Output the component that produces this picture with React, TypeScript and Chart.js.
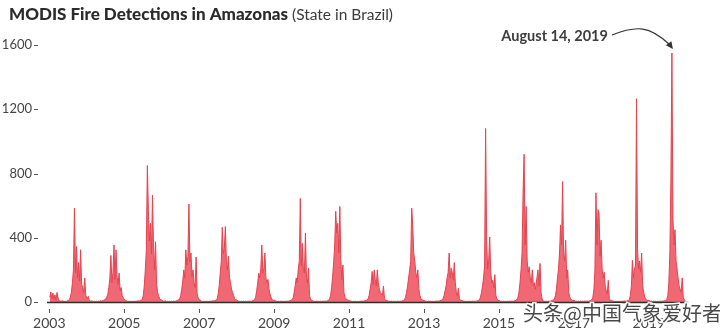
import React, { useEffect, useRef } from "react";
import { Chart, registerables } from "chart.js";

Chart.register(...registerables);

// ---- Data (10-day periods, 36 per year) ----
const yearTicks = [2003, 2005, 2007, 2009, 2011, 2013, 2015, 2017, 2019];
const yTicks = [0, 400, 800, 1200, 1600];
const titleBold = "MODIS Fire Detections in Amazonas";
const titleRest = "(State in Brazil)";
const annotationText = "August 14, 2019";
const annotationYear = 2019;
const annotationBin = 22;
const annotationValue = 1550;
const watermark = "头条@中国气象爱好者";

const fires2003 = [30, 63, 20, 55, 15, 45, 10, 60, 25, 10, 5, 5, 8, 5, 3, 5, 3, 8, 10, 15, 30, 60, 120, 200, 585, 180, 345, 150, 245, 130, 325, 110, 90, 60, 150, 40];
const fires2004 = [20, 35, 10, 5, 8, 5, 3, 5, 3, 5, 3, 5, 5, 8, 5, 10, 10, 15, 20, 30, 50, 90, 150, 290, 120, 185, 355, 140, 325, 160, 110, 180, 70, 90, 40, 25];
const fires2005 = [15, 5, 8, 3, 5, 3, 5, 3, 5, 3, 5, 5, 5, 8, 5, 10, 10, 15, 40, 100, 200, 320, 850, 570, 380, 490, 300, 665, 350, 200, 375, 110, 60, 40, 20, 15];
const fires2006 = [10, 5, 5, 8, 3, 5, 3, 5, 3, 5, 3, 5, 5, 5, 8, 10, 15, 20, 40, 80, 130, 200, 150, 325, 230, 285, 610, 250, 305, 160, 200, 120, 90, 280, 50, 25];
const fires2007 = [15, 5, 5, 3, 5, 3, 5, 3, 5, 3, 5, 5, 5, 8, 5, 10, 10, 20, 50, 100, 180, 250, 465, 300, 335, 470, 250, 200, 285, 150, 120, 80, 60, 40, 20, 15];
const fires2008 = [10, 5, 5, 3, 5, 3, 5, 3, 5, 3, 5, 5, 5, 5, 5, 8, 10, 15, 30, 70, 120, 180, 150, 205, 355, 180, 210, 305, 150, 120, 140, 80, 50, 30, 15, 10];
const fires2009 = [12, 5, 4, 3, 5, 3, 6, 3, 5, 3, 5, 4, 5, 5, 6, 8, 10, 15, 25, 60, 100, 150, 120, 205, 255, 645, 225, 365, 205, 180, 430, 150, 120, 210, 40, 15];
const fires2010 = [10, 5, 5, 3, 5, 3, 5, 3, 5, 3, 5, 5, 5, 5, 5, 8, 10, 20, 40, 90, 160, 250, 355, 565, 430, 490, 305, 595, 255, 140, 230, 60, 30, 20, 15, 10];
const fires2011 = [10, 6, 5, 3, 5, 3, 5, 3, 4, 3, 5, 5, 5, 5, 5, 8, 10, 12, 20, 40, 80, 120, 190, 110, 200, 140, 100, 200, 120, 80, 60, 50, 40, 100, 20, 10];
const fires2012 = [10, 5, 5, 3, 6, 3, 5, 3, 5, 3, 5, 5, 4, 5, 5, 8, 10, 15, 30, 60, 100, 150, 200, 250, 585, 480, 305, 255, 185, 150, 200, 80, 40, 20, 15, 10];
const fires2013 = [10, 5, 5, 3, 5, 4, 5, 3, 5, 3, 5, 5, 5, 6, 5, 8, 10, 12, 20, 40, 70, 100, 150, 185, 305, 150, 210, 185, 140, 245, 120, 60, 40, 85, 20, 10];
const fires2014 = [10, 5, 5, 3, 5, 3, 5, 4, 5, 3, 5, 5, 5, 5, 5, 8, 10, 15, 30, 60, 100, 150, 225, 1080, 385, 205, 255, 405, 185, 120, 135, 90, 170, 40, 20, 10];
const fires2015 = [10, 5, 5, 3, 5, 3, 5, 3, 5, 4, 5, 5, 5, 5, 5, 8, 10, 15, 30, 60, 120, 200, 305, 685, 920, 355, 595, 255, 185, 220, 150, 120, 200, 100, 120, 80];
const fires2016 = [150, 200, 100, 240, 60, 20, 5, 5, 3, 5, 3, 5, 5, 5, 8, 10, 15, 20, 40, 80, 150, 205, 305, 480, 355, 750, 305, 255, 385, 150, 200, 60, 30, 20, 10, 10];
const fires2017 = [10, 5, 5, 3, 5, 3, 5, 3, 5, 3, 6, 5, 5, 5, 5, 8, 10, 15, 30, 80, 200, 680, 355, 575, 555, 285, 385, 205, 150, 185, 100, 70, 50, 135, 20, 10];
const fires2018 = [10, 5, 5, 3, 5, 3, 5, 3, 5, 3, 5, 5, 6, 5, 5, 8, 10, 15, 40, 100, 260, 150, 205, 225, 1265, 335, 205, 255, 185, 305, 100, 60, 30, 20, 10, 10];
const fires2019 = [10, 5, 5, 3, 5, 3, 5, 3, 5, 3, 5, 5, 5, 5, 6, 8, 10, 15, 40, 120, 305, 760, 1550, 510, 355, 450, 255, 205, 150, 100, 80, 60, 150, 30, 15, 10];

const seasons: [number, number[]][] = [
  [2003, fires2003], [2004, fires2004], [2005, fires2005], [2006, fires2006],
  [2007, fires2007], [2008, fires2008], [2009, fires2009], [2010, fires2010],
  [2011, fires2011], [2012, fires2012], [2013, fires2013], [2014, fires2014],
  [2015, fires2015], [2016, fires2016], [2017, fires2017], [2018, fires2018],
  [2019, fires2019],
];

const binToYear = (yr: number, i: number) => yr + (i * 10 + 5) / 365;

const FONT = "Lato, 'Open Sans', sans-serif";

const decorPlugin = {
  id: "decor",
  afterDraw(chart: any) {
    const { ctx, chartArea, scales } = chart;
    const xs = scales.x;
    const ys = scales.y;
    ctx.save();

    // Title
    ctx.textBaseline = "alphabetic";
    ctx.textAlign = "left";
    ctx.fillStyle = "#2b2b2b";
    ctx.font = `900 17px ${FONT}`;
    ctx.fillText(titleBold, 9, 20);
    const w = ctx.measureText(titleBold).width;
    ctx.font = `15.5px ${FONT}`;
    ctx.fillStyle = "#3a3a3a";
    ctx.fillText(titleRest, 9 + w + 4, 20);

    // x axis line
    ctx.strokeStyle = "#2e2e2e";
    ctx.lineWidth = 1.6;
    ctx.beginPath();
    ctx.moveTo(chartArea.left - 1, chartArea.bottom + 0.5);
    ctx.lineTo(chartArea.right + 2, chartArea.bottom + 0.5);
    ctx.stroke();

    // x tick marks
    ctx.strokeStyle = "#555";
    ctx.lineWidth = 1;
    xs.ticks.forEach((t: any) => {
      const px = Math.round(xs.getPixelForValue(t.value)) + 0.5;
      ctx.beginPath();
      ctx.moveTo(px, chartArea.bottom + 7);
      ctx.lineTo(px, chartArea.bottom + 11);
      ctx.stroke();
    });

    // y tick dashes
    ys.ticks.forEach((t: any) => {
      const py = Math.round(ys.getPixelForValue(t.value)) + 0.5;
      ctx.beginPath();
      ctx.moveTo(chartArea.left - 14, py);
      ctx.lineTo(chartArea.left - 10, py);
      ctx.stroke();
    });

    // Annotation
    const tipX = xs.getPixelForValue(binToYear(annotationYear, annotationBin));
    const tipY = ys.getPixelForValue(annotationValue) - 4;
    ctx.font = `bold 14.5px ${FONT}`;
    ctx.fillStyle = "#3d3d3d";
    ctx.textAlign = "right";
    ctx.textBaseline = "middle";
    const textRight = tipX - 64;
    const textY = tipY - 13;
    ctx.fillText(annotationText, textRight, textY);

    const sx = textRight + 4;
    const sy = textY - 1;
    const ex = tipX;
    const ey = tipY - 1;
    ctx.strokeStyle = "#333";
    ctx.lineWidth = 1.2;
    ctx.beginPath();
    ctx.moveTo(sx, sy);
    ctx.bezierCurveTo(sx + 25, sy - 10, ex - 22, ey - 22, ex - 3, ey - 4);
    ctx.stroke();
    const ang = Math.atan2(4, 3);
    const hl = 8;
    ctx.fillStyle = "#333";
    ctx.beginPath();
    ctx.moveTo(ex + 1, ey + 1);
    ctx.lineTo(ex + 1 - hl * Math.cos(ang - 0.45), ey + 1 - hl * Math.sin(ang - 0.45));
    ctx.lineTo(ex + 1 - hl * Math.cos(ang + 0.45), ey + 1 - hl * Math.sin(ang + 0.45));
    ctx.closePath();
    ctx.fill();

    // Watermark
    ctx.font = `20px 'Noto Sans CJK SC', sans-serif`;
    ctx.textAlign = "left";
    ctx.textBaseline = "middle";
    ctx.lineWidth = 3;
    ctx.strokeStyle = "rgba(255,255,255,0.9)";
    ctx.strokeText(watermark, 523, 313);
    ctx.fillStyle = "rgba(40,40,40,0.85)";
    ctx.fillText(watermark, 523, 313);

    ctx.restore();
  },
};

export default function App() {
  const canvasRef = useRef<HTMLCanvasElement | null>(null);

  useEffect(() => {
    const canvas = canvasRef.current;
    if (!canvas) return;
    const points = seasons.flatMap(([yr, vals]) =>
      vals.map((v, i) => ({ x: binToYear(yr, i), y: v }))
    );
    const chart = new Chart(canvas, {
      type: "line",
      data: {
        datasets: [
          {
            data: points,
            borderColor: "#e5434f",
            backgroundColor: "rgba(236, 66, 80, 0.8)",
            borderWidth: 1,
            pointRadius: 0,
            tension: 0,
            fill: "origin",
          },
        ],
      },
      options: {
        animation: false,
        responsive: true,
        maintainAspectRatio: false,
        layout: { padding: { top: 45, right: 33.7, left: 0, bottom: 0 } },
        plugins: { legend: { display: false }, tooltip: { enabled: false }, title: { display: false } },
        scales: {
          x: {
            type: "linear",
            min: 2002.965,
            max: 2020,
            grid: { display: false, drawTicks: false },
            border: { display: false },
            afterBuildTicks: (scale: any) => {
              scale.ticks = yearTicks.map((v) => ({ value: v }));
            },
            afterFit: (scale: any) => {
              scale.height = 31;
            },
            ticks: {
              color: "#444",
              font: { family: FONT, size: 14 },
              padding: 13,
              maxRotation: 0,
              autoSkip: false,
              callback: (v: any) => String(v),
            },
          },
          y: {
            min: 0,
            max: 1600,
            grid: { display: false, drawTicks: false },
            border: { display: false },
            afterBuildTicks: (scale: any) => {
              scale.ticks = yTicks.map((v) => ({ value: v }));
            },
            afterFit: (scale: any) => {
              scale.width = 48;
            },
            ticks: {
              color: "#444",
              font: { family: FONT, size: 13 },
              padding: 16,
              callback: (v: any) => String(v),
            },
          },
        },
      },
      plugins: [decorPlugin],
    });
    return () => chart.destroy();
  }, []);

  return (
    <div style={{ position: "absolute", left: 0, top: 0, width: 720, height: 333, background: "#fff" }}>
      <canvas ref={canvasRef} />
    </div>
  );
}
